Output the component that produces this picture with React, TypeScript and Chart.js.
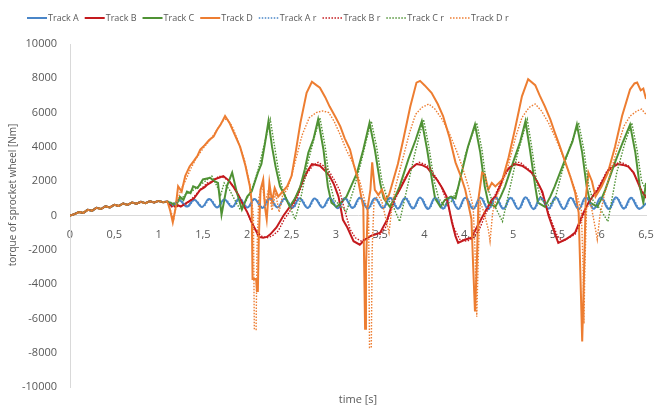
import React, { useEffect, useRef } from "react";
import { Chart, registerables } from "chart.js";

Chart.register(...registerables);

type P = [number, number];

// shared start-up ramp (all tracks identical until ~1.1 s)
const ramp: P[] = [
  [0, 0], [0.05, 80], [0.1, 200], [0.15, 150], [0.2, 330], [0.25, 280], [0.3, 450], [0.35, 380],
  [0.4, 540], [0.45, 470], [0.5, 620], [0.55, 560], [0.6, 700], [0.65, 620], [0.7, 760], [0.75, 690],
  [0.8, 800], [0.85, 720], [0.9, 830], [0.95, 760], [1.0, 850], [1.05, 780],
];

const trackA: P[] = [
  [1.10, 820], [1.15, 560], [1.23, 900], [1.32, 520], [1.40, 920], [1.49, 500], [1.57, 960], [1.66, 470],
  [1.74, 940], [1.83, 500], [1.91, 990], [2.00, 460], [2.08, 960], [2.17, 440], [2.25, 1000], [2.34, 470],
  [2.42, 980], [2.51, 450], [2.59, 1010], [2.68, 440], [2.76, 990], [2.85, 460], [2.93, 1020], [3.02, 420],
  [3.10, 1000], [3.19, 440], [3.27, 1040], [3.36, 400], [3.44, 1010], [3.53, 430], [3.61, 1040], [3.70, 400],
  [3.78, 1020], [3.87, 410], [3.95, 1050], [4.04, 380], [4.12, 1030], [4.21, 400], [4.29, 1060], [4.38, 380],
  [4.46, 1040], [4.55, 390], [4.63, 1050], [4.72, 370], [4.80, 1060], [4.89, 390], [4.97, 1040], [5.06, 380],
  [5.14, 1060], [5.23, 370], [5.31, 1050], [5.40, 390], [5.48, 1060], [5.57, 380], [5.65, 1040], [5.74, 370],
  [5.82, 1060], [5.91, 390], [5.99, 1050], [6.08, 380], [6.16, 1060], [6.25, 400], [6.33, 1040], [6.42, 390],
  [6.50, 700],
];

const trackB: P[] = [
  [1.1, 800], [1.15, 550], [1.2, 650], [1.25, 520], [1.32, 750], [1.4, 1000], [1.47, 1500], [1.52, 1650],
  [1.55, 1800], [1.6, 1950], [1.62, 2100], [1.68, 2200], [1.73, 2300], [1.79, 2050], [1.84, 1700],
  [1.9, 1200], [1.94, 750], [2.0, 200], [2.05, -400], [2.1, -900], [2.13, -1250], [2.18, -1300],
  [2.22, -1250], [2.26, -1100], [2.33, -700], [2.41, 0], [2.48, 500], [2.52, 750], [2.58, 1400],
  [2.63, 2100], [2.68, 2600], [2.73, 3000], [2.78, 2950], [2.82, 2900], [2.88, 2600], [2.93, 2300],
  [2.98, 1800], [3.03, 1100], [3.08, -250], [3.13, -700], [3.2, -1500], [3.27, -1700], [3.33, -1400],
  [3.39, -1200], [3.45, -1100], [3.5, -1000], [3.58, -230], [3.65, 900], [3.72, 1500], [3.78, 2100],
  [3.84, 2700], [3.91, 3000], [3.97, 2950], [4.03, 2800], [4.09, 2400], [4.14, 2100], [4.2, 1600],
  [4.25, 1100], [4.31, -400], [4.35, -1200], [4.38, -1600], [4.46, -1400], [4.53, -1300], [4.6, -600],
  [4.68, 170], [4.76, 930], [4.8, 1100], [4.86, 1800], [4.91, 2500], [4.96, 2800], [5.02, 3000],
  [5.1, 2900], [5.16, 2700], [5.21, 2500], [5.27, 2000], [5.33, 1400], [5.4, 0], [5.44, -600],
  [5.51, -1600], [5.59, -1400], [5.65, -1200], [5.7, -1000], [5.78, 0], [5.85, 750], [5.91, 1200],
  [5.96, 1500], [6.02, 2100], [6.07, 2600], [6.12, 2800], [6.18, 3000], [6.24, 2950], [6.3, 2850],
  [6.36, 2500], [6.41, 1900], [6.45, 1400], [6.5, 1100],
];

const trackC: P[] = [
  [1.1, 800], [1.15, 700], [1.2, 600], [1.24, 1100], [1.28, 900], [1.32, 1400], [1.36, 1300],
  [1.39, 1700], [1.44, 1600], [1.5, 2100], [1.58, 2200], [1.63, 2000], [1.67, 1900], [1.71, 50],
  [1.77, 1700], [1.83, 2500], [1.88, 1400], [1.94, 350], [2.0, 1100], [2.05, 1400], [2.12, 2500],
  [2.16, 3000], [2.2, 4200], [2.24, 5500], [2.28, 4000], [2.32, 2850], [2.37, 1700], [2.42, 1200],
  [2.48, 520], [2.54, 1000], [2.6, 1700], [2.65, 2700], [2.69, 3670], [2.75, 4500], [2.8, 5600],
  [2.86, 3850], [2.91, 1700], [2.95, 750], [3.01, 500], [3.07, 800], [3.12, 1100], [3.18, 1800],
  [3.24, 2500], [3.31, 3850], [3.38, 5400], [3.44, 3850], [3.5, 1900], [3.54, 1000], [3.61, 500],
  [3.67, 1100], [3.72, 1700], [3.82, 3300], [3.9, 4400], [3.97, 5500], [4.03, 3850], [4.09, 1900],
  [4.12, 1000], [4.18, 500], [4.23, 900], [4.3, 1100], [4.35, 1000], [4.42, 2500], [4.49, 4000],
  [4.57, 5300], [4.63, 3670], [4.68, 1700], [4.72, 750], [4.8, 500], [4.86, 1100], [4.91, 1700],
  [5.0, 3100], [5.08, 4300], [5.14, 5500], [5.19, 3850], [5.25, 1700], [5.28, 750], [5.36, 500],
  [5.42, 1100], [5.47, 1700], [5.59, 3300], [5.67, 4300], [5.72, 5300], [5.78, 3670], [5.83, 1700],
  [5.87, 750], [5.95, 500], [6.0, 1000], [6.04, 1500], [6.15, 3100], [6.24, 4300], [6.32, 5300],
  [6.38, 3670], [6.43, 1700], [6.47, 750], [6.5, 1900],
];

const trackD: P[] = [
  [1.1, 820], [1.13, 300], [1.16, -400], [1.19, 400], [1.22, 1700], [1.26, 1400], [1.3, 2300],
  [1.35, 2860], [1.4, 3200], [1.44, 3500], [1.47, 3850], [1.52, 4100], [1.57, 4400], [1.62, 4600],
  [1.66, 5000], [1.7, 5300], [1.75, 5800], [1.8, 5400], [1.86, 4700], [1.92, 4000], [1.98, 2900],
  [2.03, 1700], [2.05, 800], [2.06, -3700], [2.1, -3700], [2.11, -4400], [2.12, -4400], [2.13, -1500],
  [2.15, 1500], [2.18, 2100], [2.2, 500], [2.22, -230], [2.25, 1900], [2.28, 800], [2.31, 1600],
  [2.35, 1100], [2.4, 1400], [2.45, 1700], [2.5, 2300], [2.55, 3800], [2.6, 5400], [2.67, 7150],
  [2.73, 7800], [2.78, 7600], [2.82, 7450], [2.88, 6900], [2.93, 6350], [3.0, 5700], [3.05, 5200],
  [3.1, 4500], [3.16, 3850], [3.2, 3000], [3.25, 2100], [3.29, 1000], [3.31, 500], [3.32, -3000],
  [3.33, -6600], [3.34, -3000], [3.36, 500], [3.39, 1500], [3.41, 3100], [3.44, 1500], [3.48, 1200],
  [3.52, 1500], [3.56, 900], [3.6, 1200], [3.65, 2100], [3.7, 3000], [3.76, 4400], [3.84, 6350],
  [3.91, 7750], [3.95, 7850], [4.0, 7600], [4.08, 7150], [4.15, 6500], [4.21, 5800], [4.28, 4600],
  [4.35, 3100], [4.41, 2300], [4.46, 1500], [4.53, -200], [4.55, -3000], [4.57, -5600], [4.59, -3000],
  [4.61, 1000], [4.65, 2500], [4.68, 2400], [4.72, 1500], [4.76, 1900], [4.8, 1700], [4.88, 2100],
  [4.95, 3400], [5.02, 5000], [5.1, 6950], [5.17, 7950], [5.25, 7600], [5.3, 7000], [5.36, 6350],
  [5.42, 5600], [5.47, 4850], [5.53, 4000], [5.59, 3100], [5.65, 2200], [5.7, 1350], [5.74, 170],
  [5.76, -3500], [5.78, -7350], [5.8, -3500], [5.82, 1000], [5.85, 2500], [5.89, 2000], [5.93, 1100],
  [6.0, 1700], [6.07, 2500], [6.15, 4000], [6.23, 5800], [6.32, 7350], [6.37, 7700], [6.4, 7750],
  [6.44, 7300], [6.47, 7400], [6.5, 6800],
];

const trackAr: P[] = [
  [1.10, 800], [1.16, 580], [1.24, 880], [1.33, 540], [1.41, 900], [1.50, 520], [1.58, 940], [1.67, 490],
  [1.75, 930], [1.84, 520], [1.92, 970], [2.01, 480], [2.09, 950], [2.18, 460], [2.26, 980], [2.35, 490],
  [2.43, 960], [2.52, 470], [2.60, 990], [2.69, 460], [2.77, 980], [2.86, 480], [2.94, 1000], [3.03, 440],
  [3.11, 990], [3.20, 460], [3.28, 1020], [3.37, 420], [3.45, 1000], [3.54, 450], [3.62, 1020], [3.71, 420],
  [3.79, 1010], [3.88, 430], [3.96, 1030], [4.05, 400], [4.13, 1020], [4.22, 420], [4.30, 1040], [4.39, 400],
  [4.47, 1030], [4.56, 410], [4.64, 1040], [4.73, 390], [4.81, 1040], [4.90, 410], [4.98, 1030], [5.07, 400],
  [5.15, 1040], [5.24, 390], [5.32, 1040], [5.41, 410], [5.49, 1040], [5.58, 400], [5.66, 1030], [5.75, 390],
  [5.83, 1040], [5.92, 410], [6.00, 1040], [6.09, 400], [6.17, 1040], [6.26, 420], [6.34, 1030], [6.43, 410],
  [6.50, 720],
];

const trackBr: P[] = [
  [1.1, 800], [1.15, 500], [1.25, 550], [1.32, 700], [1.4, 1100], [1.47, 1500], [1.55, 1900],
  [1.62, 2000], [1.68, 2300], [1.74, 2200], [1.8, 2000], [1.86, 1600], [1.92, 1000], [1.98, 400],
  [2.04, -300], [2.1, -900], [2.16, -1200], [2.22, -1300], [2.28, -1200], [2.35, -900], [2.42, -200],
  [2.5, 400], [2.56, 1000], [2.62, 1800], [2.68, 2500], [2.74, 2900], [2.8, 3100], [2.86, 2900],
  [2.92, 2600], [2.98, 2100], [3.04, 1500], [3.1, 300], [3.16, -800], [3.22, -1300], [3.29, -1500],
  [3.36, -1300], [3.42, -1100], [3.5, -1100], [3.56, -700], [3.62, 300], [3.7, 1300], [3.78, 2200],
  [3.86, 2800], [3.94, 3100], [4.0, 3000], [4.06, 2800], [4.12, 2300], [4.18, 1800], [4.26, 700],
  [4.33, -700], [4.4, -1400], [4.48, -1500], [4.55, -1300], [4.62, -800], [4.7, 200], [4.78, 1000],
  [4.86, 1900], [4.94, 2600], [5.02, 3100], [5.08, 3100], [5.15, 2800], [5.22, 2500], [5.3, 1700],
  [5.37, 600], [5.44, -400], [5.5, -1200], [5.56, -1500], [5.63, -1300], [5.7, -1100], [5.77, -300],
  [5.84, 600], [5.92, 1300], [6.0, 2000], [6.06, 2600], [6.14, 3000], [6.22, 3100], [6.3, 2900],
  [6.38, 2300], [6.45, 1500], [6.5, 1000],
];

const trackCr: P[] = [
  [1.1, 800], [1.2, 700], [1.3, 1200], [1.4, 1500], [1.5, 1900], [1.6, 2300], [1.66, 1700],
  [1.7, 1200], [1.74, 1900], [1.8, 1500], [1.86, 900], [1.92, 350], [1.98, 800], [2.05, 1500],
  [2.12, 2600], [2.2, 4300], [2.26, 5600], [2.3, 4300], [2.35, 2700], [2.4, 1500], [2.46, 800],
  [2.54, -230], [2.6, 900], [2.68, 3000], [2.76, 4600], [2.82, 5700], [2.88, 4000], [2.93, 2000],
  [2.98, 900], [3.05, 600], [3.12, 230], [3.2, 1500], [3.28, 3000], [3.34, 4300], [3.4, 5500],
  [3.46, 4000], [3.52, 2000], [3.58, 1000], [3.65, 500], [3.72, -350], [3.8, 1500], [3.9, 3800],
  [3.99, 5600], [4.05, 4000], [4.11, 2000], [4.16, 1000], [4.22, 600], [4.3, 800], [4.38, 1600],
  [4.46, 3500], [4.53, 4600], [4.59, 5400], [4.65, 3800], [4.7, 1800], [4.76, 900], [4.88, -350],
  [4.96, 1500], [5.05, 3600], [5.1, 4500], [5.16, 5600], [5.21, 4000], [5.27, 1800], [5.32, 900],
  [5.4, 600], [5.47, 900], [5.55, 2500], [5.64, 4000], [5.74, 5400], [5.8, 3800], [5.85, 1800],
  [5.9, 900], [5.98, 400], [6.07, -350], [6.17, 2500], [6.26, 4200], [6.34, 5400], [6.4, 3800],
  [6.45, 2000], [6.5, 1500],
];

const trackDr: P[] = [
  [1.1, 800], [1.14, 200], [1.17, -200], [1.2, 600], [1.25, 1500], [1.3, 2000], [1.36, 2700],
  [1.42, 3300], [1.5, 3900], [1.58, 4400], [1.66, 5000], [1.72, 5500], [1.77, 5650], [1.83, 5200],
  [1.9, 4300], [1.97, 3200], [2.03, 1800], [2.07, 0], [2.08, -6650], [2.1, -6650], [2.11, -2000],
  [2.13, 1000], [2.17, 1800], [2.2, 700], [2.24, 1500], [2.28, 300], [2.32, 1300], [2.36, 200],
  [2.4, 1200], [2.45, 1500], [2.5, 2300], [2.56, 3500], [2.62, 4700], [2.7, 5700], [2.78, 6000],
  [2.85, 6100], [2.92, 6000], [2.98, 5500], [3.05, 4700], [3.12, 3800], [3.2, 3000], [3.27, 2000],
  [3.33, 800], [3.37, 0], [3.38, -7700], [3.4, -7700], [3.41, -2000], [3.43, 800], [3.48, 1200],
  [3.52, 800], [3.6, -1000], [3.64, 800], [3.68, 1800], [3.75, 3200], [3.83, 4800], [3.9, 5900],
  [3.97, 6300], [4.05, 6500], [4.12, 6200], [4.2, 5600], [4.28, 4800], [4.36, 3800], [4.43, 2800],
  [4.5, 1600], [4.55, 500], [4.57, -2000], [4.59, -5900], [4.61, -2000], [4.63, 800], [4.67, 200],
  [4.72, -800], [4.74, -1500], [4.77, 200], [4.82, 1200], [4.88, 1900], [4.95, 3000], [5.03, 4600],
  [5.1, 5700], [5.18, 6300], [5.25, 6500], [5.32, 6100], [5.4, 5400], [5.48, 4500], [5.56, 3500],
  [5.64, 2400], [5.72, 1200], [5.77, 300], [5.79, -3000], [5.8, -6300], [5.81, -3000], [5.83, 500],
  [5.88, 600], [5.93, -800], [5.95, -1400], [5.98, 0], [6.03, 1200], [6.1, 2500], [6.18, 4000],
  [6.25, 5200], [6.32, 5800], [6.4, 6100], [6.45, 6200], [6.5, 5900],
];

const labels = ["Track A", "Track B", "Track C", "Track D", "Track A r", "Track B r", "Track C r", "Track D r"];
const series = [trackA, trackB, trackC, trackD, trackAr, trackBr, trackCr, trackDr];
const colors = ["#4a86c8", "#c41a1e", "#4f9234", "#ed7d31", "#4a86c8", "#c41a1e", "#4f9234", "#ed7d31"];
const yTicks = [-10000, -8000, -6000, -4000, -2000, 0, 2000, 4000, 6000, 8000, 10000];

const FONT = "'Open Sans', 'DejaVu Sans', sans-serif";
const TEXT = "#595959";

const overlay = {
  id: "overlay",
  afterDraw(chart: any) {
    const ctx = chart.ctx as CanvasRenderingContext2D;
    const ca = chart.chartArea;
    ctx.save();
    // legend
    let x = 27;
    const y = 18;
    ctx.font = `9px ${FONT}`;
    ctx.textBaseline = "middle";
    ctx.textAlign = "left";
    chart.data.datasets.forEach((ds: any) => {
      ctx.strokeStyle = ds.borderColor;
      ctx.lineWidth = ds.borderWidth;
      ctx.setLineDash(ds.borderDash || []);
      ctx.beginPath();
      ctx.moveTo(x, y);
      ctx.lineTo(x + 20, y);
      ctx.stroke();
      ctx.setLineDash([]);
      ctx.fillStyle = TEXT;
      ctx.fillText(ds.label, x + 21, y);
      x += 21 + ctx.measureText(ds.label).width + 6;
    });
    // x title
    ctx.font = `11px ${FONT}`;
    ctx.textAlign = "center";
    ctx.fillText("time [s]", (ca.left + ca.right) / 2, 400);
    // y title
    ctx.translate(13, 195);
    ctx.rotate(-Math.PI / 2);
    ctx.font = `10px ${FONT}`;
    ctx.fillText("torque of sprocket wheel [Nm]", 0, 0);
    ctx.restore();
  },
};

export default function App() {
  const ref = useRef<HTMLCanvasElement>(null);
  useEffect(() => {
    if (!ref.current) return;
    const datasets = series.map((s, i) => {
      const pts = ramp.concat(s).map(([x, y]) => ({ x, y }));
      const dotted = i >= 4;
      return {
        label: labels[i],
        data: pts,
        borderColor: colors[i],
        backgroundColor: colors[i],
        borderWidth: dotted ? 1.4 : 2,
        borderDash: dotted ? [1.5, 1.5] : [],
        pointRadius: 0,
        tension: i === 0 || i === 4 ? 0.4 : 0,
        fill: false,
        order: 7 - i,
      };
    });
    const chart = new Chart(ref.current, {
      type: "line",
      data: { datasets },
      options: {
        animation: false,
        responsive: true,
        maintainAspectRatio: false,
        events: [],
        layout: { padding: { left: 8, right: 9, top: 44, bottom: 20 } },
        plugins: { legend: { display: false }, tooltip: { enabled: false } },
        scales: {
          x: {
            type: "linear",
            min: 0,
            max: 6.5,
            position: { y: 0 },
            grid: { display: false, drawTicks: false },
            border: { display: true, color: "#d9d9d9", width: 1 },
            afterFit: (s: any) => { s.paddingRight = 0; s.paddingLeft = 0; },
            ticks: {
              stepSize: 0.5,
              padding: 13,
              color: TEXT,
              font: { family: FONT, size: 11 },
              maxRotation: 0,
              callback: (v: any) => String(v).replace(".", ","),
            },
          },
          y: {
            min: -10000,
            max: 10000,
            grid: { display: false, drawTicks: false },
            border: { display: true, color: "#d9d9d9", width: 1 },
            afterFit: (s: any) => { s.width = 62; },
            afterBuildTicks: (s: any) => { s.ticks = yTicks.map((v) => ({ value: v })); },
            ticks: {
              padding: 13,
              color: TEXT,
              font: { family: FONT, size: 11 },
              callback: (v: any) => String(v),
            },
          },
        },
      },
      plugins: [overlay],
    });
    return () => chart.destroy();
  }, []);
  return (
    <div style={{ position: "fixed", left: 0, top: 0, width: 655, height: 407, background: "#fff" }}>
      <canvas ref={ref} />
    </div>
  );
}
